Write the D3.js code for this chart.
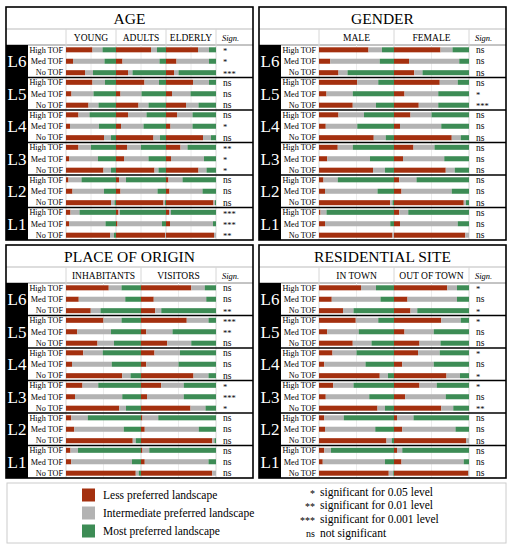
<!DOCTYPE html>
<html lang="en">
<head>
<meta charset="UTF-8">
<title>TOF preferences</title>
<script src="https://cdn.jsdelivr.net/npm/d3@7"></script>
<style>
    body{ margin:0; background:#fff; }
    svg{ font-family:"Liberation Serif","DejaVu Serif",serif; }
</style>
</head>
<body>
<script>
    // categories
    var levels = ['L6','L5','L4','L3','L2','L1'];
    var tofRows = ['High TOF','Med TOF','No TOF'];

    // AGE  (per level: High, Med, No; per row: young, adults, elderly) - % of answers
    var ageGroups = ['YOUNG','ADULTS','ELDERLY'];
    var ageLess = [
        [[53,70,64],[14,13,21],[38,24,16]],
        [[53,57,54],[11,9,12],[45,45,40]],
        [[25,24,22],[8,10,9],[76,75,74]],
        [[25,22,29],[6,16,10],[75,77,65]],
        [[5,6,5],[13,9,7],[90,95,95]],
        [[9,5,6],[6,3,8],[88,98,96]]
    ];
    var ageMid = [
        [[20,12,22],[63,74,65],[16,9,9]],
        [[25,29,32],[44,42,37],[20,20,25]],
        [[22,37,31],[58,45,44],[14,13,16]],
        [[25,28,14],[58,49,66],[15,8,16]],
        [[26,14,28],[63,74,66],[7,3,3]],
        [[18,3,4],[73,89,86],[8,2,4]]
    ];
    var ageSign = [['*','*','***'],['ns','ns','ns'],['ns','*','ns'],['**','*','*'],['ns','ns','ns'],['***','***','**']];

    // GENDER
    var genderGroups = ['MALE','FEMALE'];
    var genderLess = [
        [[66,62],[15,20],[26,27]],
        [[51,61],[10,14],[45,33]],
        [[26,22],[9,8],[73,77]],
        [[25,26],[11,12],[72,69]],
        [[6,7],[8,10],[95,93]],
        [[2,7],[8,8],[98,95]]
    ];
    var genderMid = [
        [[18,16],[66,67],[12,11]],
        [[28,24],[35,45],[31,26]],
        [[34,28],[42,55],[16,12]],
        [[20,28],[57,55],[16,12]],
        [[19,23],[70,67],[3,3]],
        [[8,12],[87,77],[2,5]]
    ];
    var genderSign = [['ns','ns','ns'],['ns','*','***'],['ns','ns','ns'],['ns','ns','ns'],['ns','ns','ns'],['ns','ns','ns']];

    // PLACE OF ORIGIN
    var originGroups = ['INHABITANTS','VISITORS'];
    var originLess = [
        [[57,67],[17,17],[33,19]],
        [[50,61],[15,7],[42,35]],
        [[23,18],[8,7],[75,70]],
        [[22,27],[12,8],[71,66]],
        [[7,2],[11,5],[89,95]],
        [[6,2],[7,5],[93,95]]
    ];
    var originMid = [
        [[17,18],[62,70],[13,8]],
        [[24,29],[45,35],[22,32]],
        [[26,34],[53,43],[11,20]],
        [[21,30],[63,49],[9,20]],
        [[22,21],[66,72],[4,3]],
        [[10,9],[81,85],[4,5]]
    ];
    var originSign = [['ns','ns','**'],['***','**','ns'],['ns','ns','ns'],['*','***','*'],['ns','ns','ns'],['ns','ns','ns']];

    // RESIDENTIAL SITE
    var siteGroups = ['IN TOWN','OUT OF TOWN'];
    var siteLess = [
        [[56,71],[17,18],[32,22]],
        [[49,63],[11,14],[45,34]],
        [[18,32],[7,11],[81,70]],
        [[19,34],[9,15],[78,63]],
        [[7,4],[8,11],[90,96]],
        [[7,4],[5,10],[93,99]]
    ];
    var siteMid = [
        [[20,13],[65,66],[14,9]],
        [[30,26],[42,39],[25,28]],
        [[32,29],[55,42],[11,18]],
        [[27,23],[58,54],[10,16]],
        [[26,22],[67,71],[7,4]],
        [[9,7],[83,83],[6,1]]
    ];
    var siteSign = [['*','ns','*'],['*','ns','ns'],['*','ns','*'],['*','ns','**'],['ns','ns','ns'],['ns','ns','ns']];

    // legend
    var legendLabels = ['Less preferred landscape','Intermediate preferred landscape','Most preferred landscape'];
    var signKeys = ['*','**','***','ns'];
    var signTexts = ['significant for 0.05 level','significant for 0.01 level','significant for 0.001 level','not significant'];

    var colors = ['#a4300f','#b3b3b3','#3d8c55'];

    var width = 512, height = 550;
    var svg = d3.select('body').append('svg')
        .attr('width', width).attr('height', height);

    var panels = [
        {title:'AGE', groups:ageGroups, less:ageLess, mid:ageMid, sign:ageSign, x:6, y:7},
        {title:'GENDER', groups:genderGroups, less:genderLess, mid:genderMid, sign:genderSign, x:259, y:7},
        {title:'PLACE OF ORIGIN', groups:originGroups, less:originLess, mid:originMid, sign:originSign, x:6, y:245},
        {title:'RESIDENTIAL SITE', groups:siteGroups, less:siteLess, mid:siteMid, sign:siteSign, x:259, y:245}
    ];

    var pw = 247, titleH = 22, headH = 16, bodyH = 195;

    panels.forEach(function(p){
        var g = svg.append('g').attr('transform','translate(' + p.x + ',' + p.y + ')');
        var top = titleH + headH;

        var x = d3.scaleBand().domain(p.groups).range([60, 210]);
        var pct = d3.scaleLinear().domain([0,100]).range([0, x.bandwidth()]);
        var yL = d3.scaleBand().domain(levels).range([top, top + bodyH]);
        var yR = d3.scaleBand().domain(tofRows).range([0, yL.bandwidth()]).paddingInner(0.56).paddingOuter(0.2);

        // title
        g.append('text').attr('x', pw/2).attr('y', 16.5)
            .attr('text-anchor','middle').attr('font-size',15.5).text(p.title);
        g.append('line').attr('x1',0).attr('x2',pw).attr('y1',titleH).attr('y2',titleH)
            .attr('stroke','#bbb');

        // header
        g.selectAll('.grp').data(p.groups).enter().append('text')
            .attr('x', function(d){ return x(d) + x.bandwidth()/2; })
            .attr('y', titleH + 11.5)
            .attr('text-anchor','middle').attr('font-size',9.5).text(function(d){ return d; });
        g.append('text').attr('x',216).attr('y',titleH + 11.5)
            .attr('font-size',8.5).attr('font-style','italic').text('Sign.');
        g.append('line').attr('x1',0).attr('x2',pw).attr('y1',top).attr('y2',top)
            .attr('stroke','#888');

        // grid
        var edges = p.groups.map(function(d){ return x(d); }).concat([x.range()[1]]);
        g.selectAll('.vl').data(edges).enter().append('line')
            .attr('x1',function(d){ return d; }).attr('x2',function(d){ return d; })
            .attr('y1',titleH).attr('y2',top + bodyH)
            .attr('stroke','#d6d6d6');
        g.selectAll('.ml').data(p.groups).enter().append('line')
            .attr('x1',function(d){ return x(d) + x.bandwidth()/2; })
            .attr('x2',function(d){ return x(d) + x.bandwidth()/2; })
            .attr('y1',top).attr('y2',top + bodyH)
            .attr('stroke','#ececec');

        // black level column
        g.append('rect').attr('x',0).attr('y',top).attr('width',22).attr('height',bodyH)
            .attr('fill','#000');

        levels.forEach(function(lv, li){
            var lg = g.append('g').attr('transform','translate(0,' + yL(lv) + ')');
            lg.append('text').attr('x',11).attr('y',yL.bandwidth()/2 + 6)
                .attr('text-anchor','middle').attr('fill','#fff').attr('font-size',17).text(lv);
            if(li > 0){
                lg.append('line').attr('x1',22).attr('x2',pw).attr('y1',0).attr('y2',0)
                    .attr('stroke','#000').attr('stroke-width',1.3);
            }
            tofRows.forEach(function(tof, ti){
                var yc = yR(tof) + yR.bandwidth()/2;
                lg.append('text').attr('x',57).attr('y',yc + 2.8)
                    .attr('text-anchor','end').attr('font-size',8.2).text(tof);
                var segs = [];
                p.groups.forEach(function(gr, gi){
                    var a = p.less[li][ti][gi], b = p.mid[li][ti][gi];
                    var vals = [a, b, 100 - a - b];
                    var acc = 0;
                    vals.forEach(function(v, k){
                        segs.push({x: x(gr) + pct(acc), w: pct(v), c: colors[k]});
                        acc += v;
                    });
                });
                lg.selectAll(null).data(segs).enter().append('rect')
                    .attr('x',function(d){ return d.x; })
                    .attr('width',function(d){ return Math.max(0, d.w); })
                    .attr('y', yR(tof)).attr('height', yR.bandwidth())
                    .attr('fill',function(d){ return d.c; });
                var s = p.sign[li][ti];
                lg.append('text').attr('x',217).attr('y', s === 'ns' ? yc + 3.2 : yc + 4.2)
                    .attr('font-size', s === 'ns' ? 9.5 : 8.5).text(s);
            });
        });

        // border
        g.append('rect').attr('x',0).attr('y',0).attr('width',pw).attr('height',top + bodyH)
            .attr('fill','none').attr('stroke','#000').attr('stroke-width',1.6);
    });

    // legend box
    var lgd = svg.append('g');
    lgd.append('rect').attr('x',7).attr('y',483).attr('width',499).attr('height',60)
        .attr('fill','#fff').attr('stroke','#ccc');
    var ly = d3.scalePoint().domain(legendLabels).range([495, 531]);
    lgd.selectAll('.sw').data(legendLabels).enter().append('rect')
        .attr('x',82).attr('y',function(d){ return ly(d) - 6.5; })
        .attr('width',13).attr('height',13)
        .attr('fill',function(d,i){ return colors[i]; });
    lgd.selectAll('.lt').data(legendLabels).enter().append('text')
        .attr('x',103).attr('y',function(d){ return ly(d) + 4; })
        .attr('font-size',11.5).text(function(d){ return d; });
    var sy = d3.scalePoint().domain(signKeys).range([492, 533]);
    lgd.selectAll('.sk').data(signKeys).enter().append('text')
        .attr('x',315).attr('y',function(d){ return sy(d) + (d === 'ns' ? 3.5 : 4.5); })
        .attr('text-anchor','end').attr('font-size',10).text(function(d){ return d; });
    lgd.selectAll('.st').data(signKeys).enter().append('text')
        .attr('x',320).attr('y',function(d){ return sy(d) + 3.5; })
        .attr('font-size',11.5).text(function(d,i){ return signTexts[i]; });
</script>
</body>
</html>
